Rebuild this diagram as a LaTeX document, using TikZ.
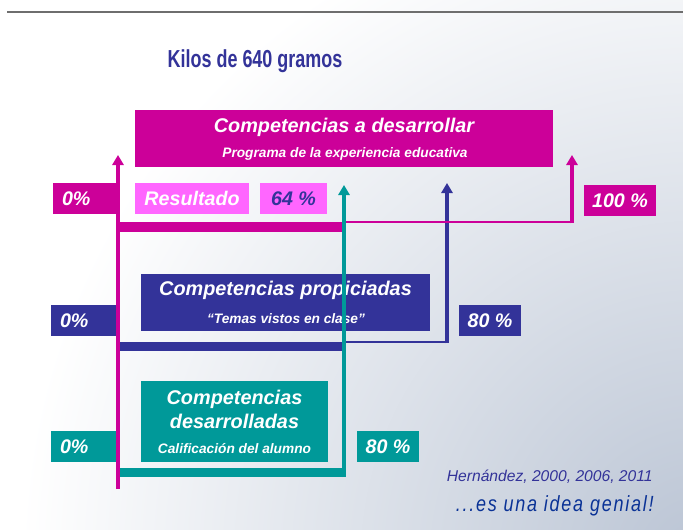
\documentclass[tikz,border=0pt]{standalone}
\usepackage{fontspec}
\setmainfont{Liberation Sans}
\newfontfamily\titlefont{Liberation Sans}[FakeStretch=0.73]
\newfontfamily\geniofont{Liberation Sans}[FakeStretch=0.82,LetterSpace=8]
\usetikzlibrary{arrows.meta}

\definecolor{kmag}{RGB}{204,0,153}
\definecolor{kpink}{RGB}{255,102,255}
\definecolor{kblue}{RGB}{51,51,153}
\definecolor{kteal}{RGB}{0,153,153}
\definecolor{kgenial}{RGB}{10,50,150}
\definecolor{kcorner}{RGB}{186,196,212}
\definecolor{kgris}{RGB}{110,110,110}

\tikzset{
  caja/.style={fill=#1, inner sep=0pt, minimum height=0.62cm, text=white,
    font=\bfseries\itshape\fontsize{11.2}{13}\selectfont},
  grande/.style={text=white, anchor=base, inner sep=0pt,
    font=\bfseries\itshape\fontsize{11.3}{13}\selectfont},
  chico/.style={text=white, anchor=base, inner sep=0pt,
    font=\bfseries\itshape\fontsize{7.8}{9}\selectfont},
  flecha/.style={line width=2.2pt, -{Triangle[length=5.7pt, width=6.3pt]}},
  linea/.style={line width=1.3pt},
}

\begin{document}
\begin{tikzpicture}[x=0.02cm, y=-0.02cm]
  \useasboundingbox (0,0) rectangle (683,530);
  % fondo
  \begin{scope}
    \clip (0,0) rectangle (683,530);
    \shade[inner color=kcorner, outer color=white] (700,560) circle (13.6cm);
  \end{scope}
  \draw[kgris, line width=0.8pt] (7,12) -- (683,12);

  \node[font=\titlefont\bfseries\fontsize{14}{16}\selectfont, text=kblue,
    anchor=base, inner sep=0pt] (titulo) at (255,68) {Kilos de 640 gramos};

  % competencias a desarrollar
  \node[caja=kmag, minimum width=8.36cm, minimum height=1.14cm] (desarrollar) at (344,138.5) {};
  \node[grande] (desarrollarT) at (344,133) {Competencias a desarrollar};
  \node[chico] (programa) at (345,158) {Programa de la experiencia educativa};
  \node[caja=kmag, text width=0.92cm, inner xsep=0.18cm, align=left] (ceroA) at (85,198.5) {0\%};
  \node[caja=kpink, minimum width=2.28cm] (resultado) at (192,198.5) {Resultado};
  \node[caja=kpink, minimum width=1.34cm, text=kblue] (sesenta) at (293.5,198.5) {64 \%};
  \node[caja=kmag, minimum width=1.44cm] (cien) at (620,200.5) {100 \%};

  % competencias propiciadas
  \node[caja=kblue, minimum width=5.78cm, minimum height=1.14cm] (propiciadas) at (285.5,302.5) {};
  \node[grande] (propiciadasT) at (285.5,296) {Competencias propiciadas};
  \node[chico] (temas) at (286,323) {“Temas vistos en clase”};
  \node[caja=kblue, text width=0.94cm, inner xsep=0.18cm, align=left] (ceroB) at (83.5,320.5) {0\%};
  \node[caja=kblue, minimum width=1.24cm] (ochentaB) at (490,320.5) {80 \%};

  % competencias desarrolladas
  \node[caja=kteal, minimum width=3.74cm, minimum height=1.62cm] (desarrolladas) at (234.5,421.5) {};
  \node[grande] (desarrolladasA) at (234.5,404) {Competencias};
  \node[grande] (desarrolladasB) at (234.5,428) {desarrolladas};
  \node[chico] (calificacion) at (234.5,453.3) {Calificación del alumno};
  \node[caja=kteal, text width=0.94cm, inner xsep=0.18cm, align=left] (ceroC) at (83.5,446.5) {0\%};
  \node[caja=kteal, minimum width=1.24cm] (ochentaC) at (388,446.5) {80 \%};

  % barras
  \fill[kmag] (118,222) rectangle (343,232);
  \fill[kblue] (118,342) rectangle (343,351);
  \fill[kteal] (118,468) rectangle (346,477);

  \coordinate (magabajo) at (118,489);
  \coordinate (magarriba) at (118,155);
  \coordinate (tealabajo) at (344,477);
  \coordinate (tealarriba) at (344,185);
  \coordinate (azulcruce) at (344,342.2);
  \coordinate (azulabajo) at (447,342.2);
  \coordinate (azularriba) at (447,183);
  \coordinate (magcruce) at (344,222.2);
  \coordinate (magesquina) at (572,222.2);
  \coordinate (magfin) at (572,155);

  \draw[kblue, linea] (azulcruce) -- (azulabajo);
  \draw[kblue, flecha] ([yshift=-0.65pt]azulabajo) -- (azularriba);
  \draw[kmag, linea] (magcruce) -- (magesquina);
  \draw[kmag, flecha] ([yshift=-0.65pt]magesquina) -- (magfin);
  \draw[kteal, flecha] (tealabajo) -- (tealarriba);
  \draw[kmag, flecha] (magabajo) -- (magarriba);

  \node[font=\itshape\fontsize{8.9}{10}\selectfont, text=kblue, anchor=base east,
    inner sep=0pt] (autor) at (653,481) {Hernández, 2000, 2006, 2011};
  \node[font=\geniofont\itshape\fontsize{12.5}{14}\selectfont, text=kgenial, anchor=base east,
    inner sep=0pt] (genial) at (654,511.7) {...es una idea genial!};
\end{tikzpicture}
\end{document}
